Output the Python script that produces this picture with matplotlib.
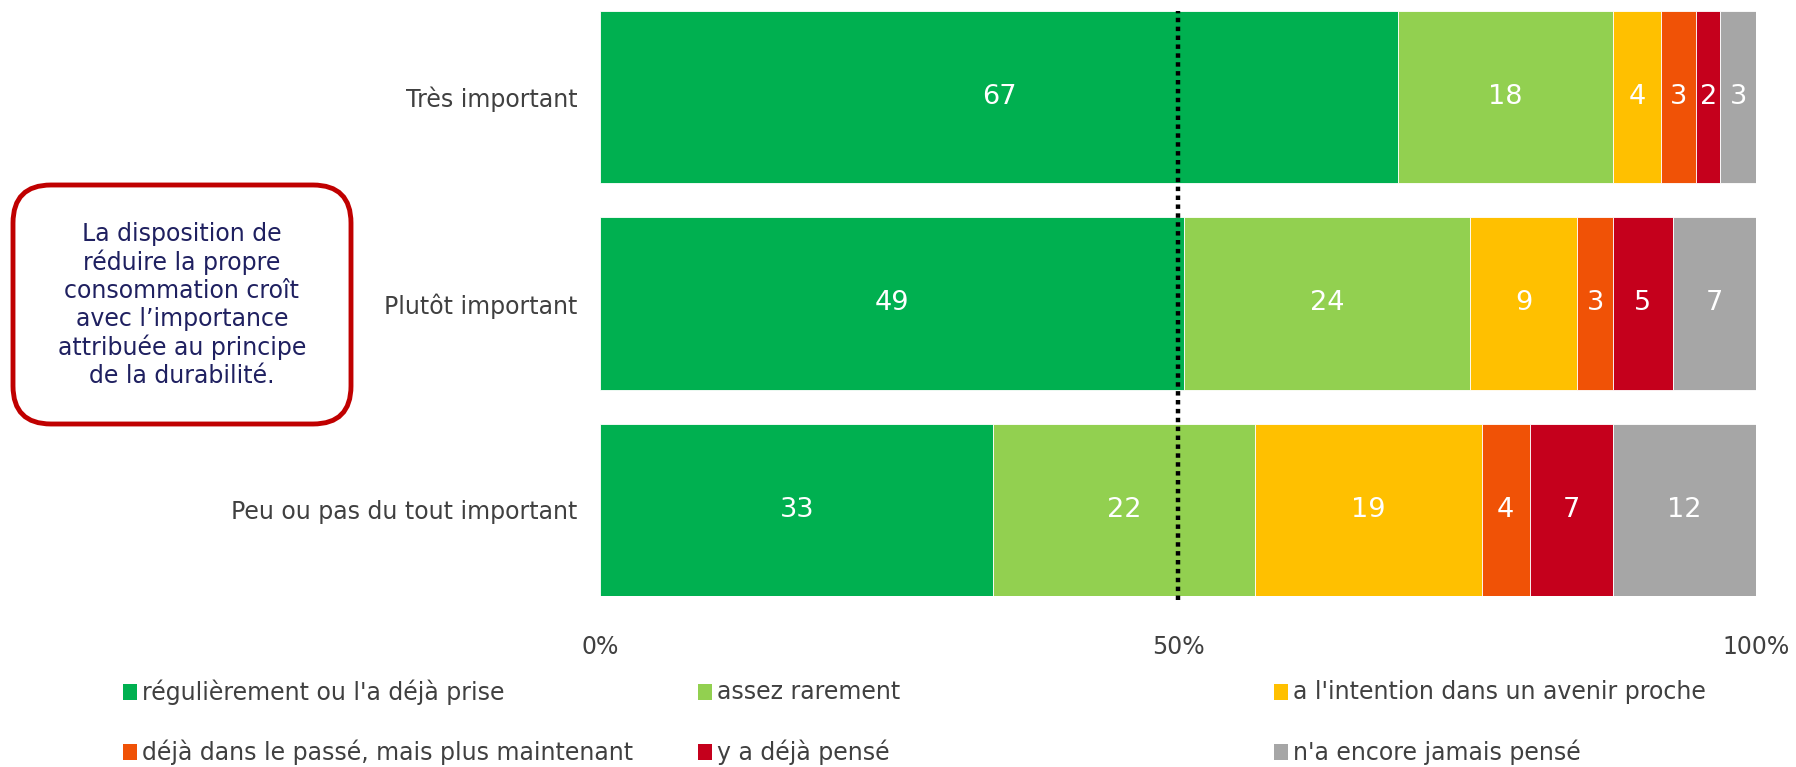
import numpy as np
import matplotlib
matplotlib.use("Agg")
import matplotlib.pyplot as plt
from matplotlib.patches import FancyBboxPatch, Rectangle
from matplotlib.transforms import IdentityTransform

# data
categories = ["Très important", "Plutôt important", "Peu ou pas du tout important"]
series_names = [
    "régulièrement ou l'a déjà prise",
    "assez rarement",
    "a l'intention dans un avenir proche",
    "déjà dans le passé, mais plus maintenant",
    "y a déjà pensé",
    "n'a encore jamais pensé",
]
values = np.array([
    [67, 18, 4, 3, 2, 3],
    [49, 24, 9, 3, 5, 7],
    [33, 22, 19, 4, 7, 12],
], dtype=float)
colors = ["#00B050", "#92D050", "#FFC000", "#F05206", "#C5001C", "#A6A6A6"]
xticks = [0, 50, 100]
xtick_labels = ["0%", "50%", "100%"]
note = ("La disposition de\nréduire la propre\nconsommation croît\n"
        "avec l’importance\nattribuée au principe\nde la durabilité.")

W, H = 1796, 767
fig = plt.figure(figsize=(W / 100, H / 100), dpi=100)
plt.rcParams["font.family"] = ["DejaVu Sans"]
text_col = "#404040"
fs = 17

ax = fig.add_axes([600 / W, 1 - 596 / H, 1156 / W, 585 / H])

# normalise to 100 %
shares = values / values.sum(axis=1, keepdims=True) * 100
y = np.arange(len(categories))
left = np.zeros(len(categories))
for j, name in enumerate(series_names):
    ax.barh(y, shares[:, j], left=left, height=0.835, color=colors[j],
            edgecolor="white", linewidth=0.6)
    for i in range(len(categories)):
        ax.text(left[i] + shares[i, j] / 2, y[i], f"{values[i, j]:.0f}",
                ha="center", va="center", color="white", fontsize=19.5)
    left += shares[:, j]

ax.set_xlim(0, 100)
ax.set_ylim(2 + 0.4175, -0.4175)
ax.axvline(50, ymin=-0.006, ymax=1, color="black", linestyle=(0, (1, 1)),
           linewidth=3.2, clip_on=False, zorder=5)

ax.set_yticks(y)
ax.set_yticklabels(categories, fontsize=fs, color=text_col)
ax.set_xticks(xticks)
ax.set_xticklabels(xtick_labels, fontsize=fs, color=text_col)
ax.tick_params(axis="both", length=0)
ax.tick_params(axis="x", pad=28)
ax.tick_params(axis="y", pad=16)
for s in ax.spines.values():
    s.set_visible(False)

# note box (pixel coords, origin bottom-left)
box = FancyBboxPatch((13, H - 424), 338, 239,
                     boxstyle="round,pad=0,rounding_size=38",
                     transform=IdentityTransform(), facecolor="white",
                     edgecolor="#C00000", linewidth=3.5)
fig.add_artist(box)
fig.text(182 / W, 1 - 305 / H, note, ha="center", va="center",
         fontsize=fs, color="#1F2060", linespacing=1.2)

# legend, drawn by hand to keep equal column spacing
col_x = [123, 698, 1274]
row_y = [692, 752]
for k, name in enumerate(series_names):
    cx = col_x[k % 3]
    cy = row_y[k // 3]
    fig.add_artist(Rectangle((cx, H - cy - 8), 14, 16,
                             transform=IdentityTransform(),
                             facecolor=colors[k], edgecolor="none"))
    fig.text((cx + 19) / W, 1 - cy / H, name, ha="left", va="center",
             fontsize=fs, color=text_col)

fig.savefig("out.png", dpi=100)
